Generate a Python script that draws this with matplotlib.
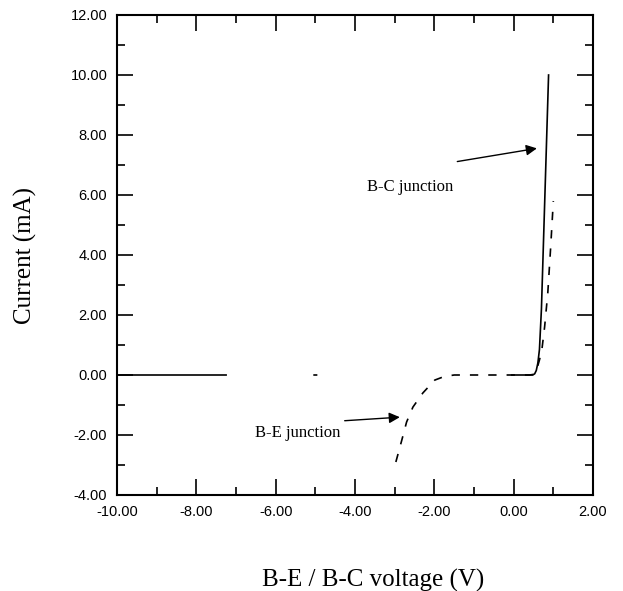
import numpy as np
import matplotlib.pyplot as plt
from matplotlib.ticker import MultipleLocator, FormatStrFormatter

# B-C junction (solid), pieces separated by NaN gaps
bc_v = [-10.0, -7.25, np.nan, -5.03, -4.97, np.nan,
        -0.05, 0.30, 0.48, 0.53, 0.57, 0.61, 0.65, 0.70, 0.76, 0.82, 0.88]
bc_i = [0.0, 0.0, np.nan, 0.0, 0.0, np.nan,
        0.0, 0.0, 0.0, 0.04, 0.15, 0.40, 0.85, 2.2, 4.8, 7.4, 10.0]

# B-E junction (dashed)
be_v = [-2.97, -2.82, -2.70, -2.54, -2.29, -1.99, -1.75, -1.50, -1.0, -0.5,
        0.0, 0.40, 0.50, 0.55, 0.60, 0.65, 0.71, 0.78, 0.86, 0.93, 1.0]
be_i = [-2.9, -2.17, -1.57, -1.07, -0.60, -0.17, -0.05, 0.0, 0.0, 0.0,
        0.0, 0.0, 0.02, 0.10, 0.27, 0.50, 0.83, 1.6, 2.73, 4.2, 5.8]

serif = ['Liberation Serif', 'DejaVu Serif']
sans = ['Liberation Sans', 'DejaVu Sans']

fig = plt.figure(figsize=(6.23, 5.91), dpi=100)
ax = fig.add_axes([117/623, 96/591, 476/623, 480/591])

ax.plot(bc_v, bc_i, color='black', lw=1.2)
ax.plot(be_v, be_i, color='black', lw=1.2, linestyle=(0, (5, 6)))

ax.set_xlim(-10, 2)
ax.set_ylim(-4, 12)
ax.xaxis.set_major_locator(MultipleLocator(2))
ax.xaxis.set_minor_locator(MultipleLocator(1))
ax.yaxis.set_major_locator(MultipleLocator(2))
ax.yaxis.set_minor_locator(MultipleLocator(1))
ax.xaxis.set_major_formatter(FormatStrFormatter('%.2f'))
ax.yaxis.set_major_formatter(FormatStrFormatter('%.2f'))

ax.tick_params(which='both', direction='in', top=True, right=True, width=1.2)
ax.tick_params(which='major', length=11.5, pad=7)
ax.tick_params(which='minor', length=6)
for lab in ax.get_xticklabels() + ax.get_yticklabels():
    lab.set_family(sans)
    lab.set_fontsize(10.5)
for s in ax.spines.values():
    s.set_linewidth(1.5)

ax.set_ylabel('Current (mA)', family=serif, fontsize=18)
ax.yaxis.set_label_coords(-0.168, 0.5)
ax.set_xlabel('B-E / B-C voltage (V)', family=serif, fontsize=18)
ax.xaxis.set_label_coords(0.538, -0.155)

arrow = dict(arrowstyle='-|>', color='black', lw=1, mutation_scale=16)
ax.annotate('', xy=(0.655, 7.57), xytext=(-1.49, 7.1), arrowprops=arrow)
ax.text(-2.62, 6.27, 'B-C junction', family=serif, fontsize=12,
        ha='center', va='center')
ax.annotate('', xy=(-2.80, -1.4), xytext=(-4.33, -1.53), arrowprops=arrow)
ax.text(-5.44, -1.93, 'B-E junction', family=serif, fontsize=12,
        ha='center', va='center')

plt.savefig('out.png', dpi=100)
plt.close()
